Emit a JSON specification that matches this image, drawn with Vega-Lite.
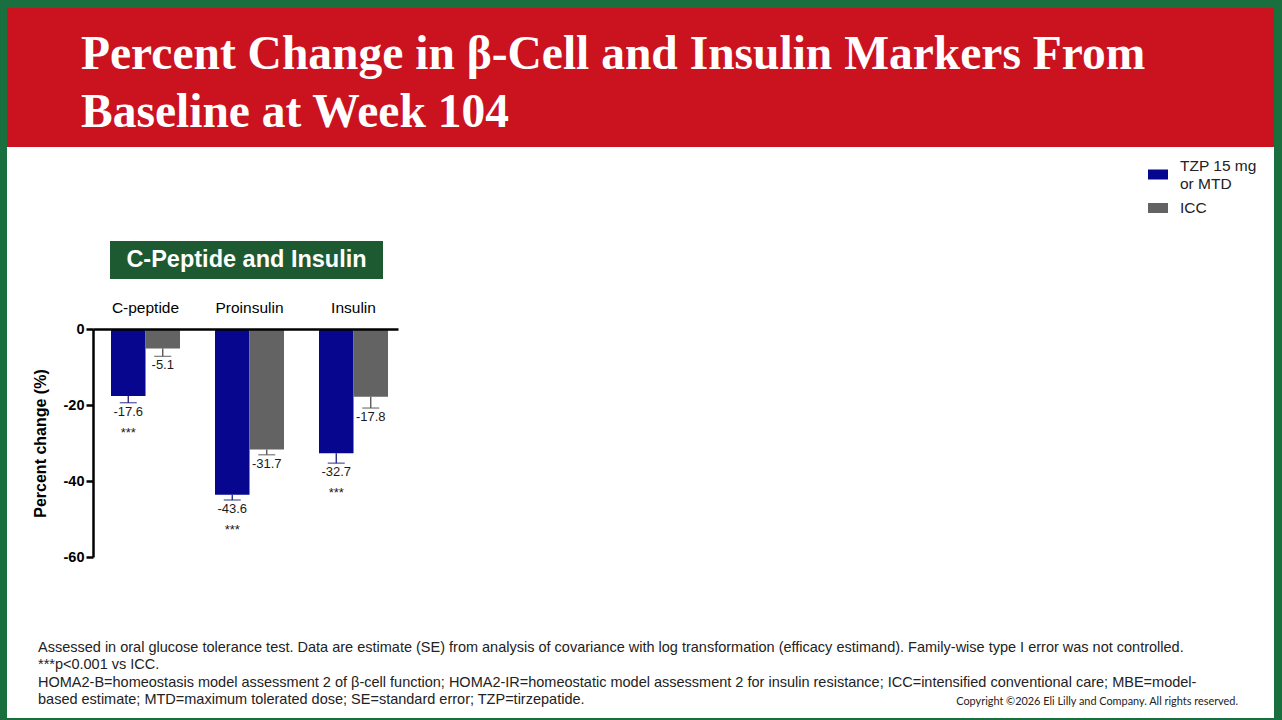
{
  "$schema": "https://vega.github.io/schema/vega-lite/v6.json",
  "description": "Percent change in beta-cell and insulin markers from baseline at week 104, slide recreation.",
  "background": "#1a6f3e",
  "padding": {"left": 7, "top": 8, "right": 8, "bottom": 2},
  "spacing": 0,
  "title": {
    "text": "Copyright ©2026 Eli Lilly and Company. All rights reserved.",
    "orient": "bottom",
    "anchor": "end",
    "frame": "bounds",
    "align": "right",
    "baseline": "alphabetic",
    "offset": -13.5,
    "dx": -36,
    "font": "Lato",
    "fontSize": 10.9,
    "fontWeight": "normal",
    "color": "#222222"
  },
  "vconcat": [
    {
      "width": 1267,
      "height": 139,
      "view": {"fill": "#cb131f", "stroke": null},
      "title": {
        "text": ["Percent Change in β-Cell and Insulin Markers From", "Baseline at Week 104"],
        "orient": "bottom",
        "anchor": "start",
        "frame": "group",
        "align": "left",
        "baseline": "alphabetic",
        "offset": -78,
        "dx": 74,
        "font": "Liberation Serif",
        "fontSize": 47.5,
        "fontWeight": "bold",
        "color": "#ffffff",
        "lineHeight": 58,
        "limit": 0
      },
      "data": {"values": [{}]},
      "mark": {"type": "text"},
      "encoding": {"text": {"value": ""}}
    },
    {
      "width": 1267,
      "height": 94,
      "view": {"fill": "#ffffff", "stroke": null},
      "data": {"values": [{}]},
      "mark": {"type": "text"},
      "encoding": {"text": {"value": ""}}
    },
    {
      "spacing": 0,
      "hconcat": [
        {
          "width": 103,
          "height": 38,
          "view": {"fill": "#ffffff", "stroke": null},
          "data": {"values": [{}]},
          "mark": {"type": "text"},
          "encoding": {"text": {"value": ""}}
        },
        {
          "width": 273,
          "height": 38,
          "view": {"fill": "#1e5a31", "stroke": null},
          "data": {"values": [{"panel": "C-Peptide and Insulin"}]},
          "mark": {
            "type": "text",
            "align": "center",
            "baseline": "middle",
            "font": "Liberation Sans",
            "fontSize": 23.5,
            "fontWeight": "bold",
            "color": "#ffffff"
          },
          "encoding": {"text": {"field": "panel", "type": "nominal"}}
        },
        {
          "width": 891,
          "height": 38,
          "view": {"fill": "#ffffff", "stroke": null},
          "data": {"values": [{}]},
          "mark": {"type": "text"},
          "encoding": {"text": {"value": ""}}
        }
      ]
    },
    {
      "width": 1267,
      "height": 439,
      "view": {"fill": "#ffffff", "stroke": null},
      "title": {
        "text": [
          "Assessed in oral glucose tolerance test. Data are estimate (SE) from analysis of covariance with log transformation (efficacy estimand). Family-wise type I error was not controlled.",
          "***p<0.001 vs ICC.",
          "HOMA2-B=homeostasis model assessment 2 of β-cell function; HOMA2-IR=homeostatic model assessment 2 for insulin resistance; ICC=intensified conventional care; MBE=model-",
          "based estimate; MTD=maximum tolerated dose; SE=standard error; TZP=tirzepatide."
        ],
        "orient": "bottom",
        "anchor": "start",
        "frame": "group",
        "align": "left",
        "baseline": "alphabetic",
        "offset": -66.5,
        "dx": 31,
        "font": "Liberation Sans",
        "fontSize": 14.5,
        "fontWeight": "normal",
        "color": "#222222",
        "lineHeight": 17.5,
        "limit": 0
      },
      "data": {
        "values": [
          {"marker": "C-peptide", "arm": "TZP 15 mg or MTD", "value": -17.6, "low": -19.4, "sig": "***"},
          {"marker": "C-peptide", "arm": "ICC", "value": -5.1, "low": -7.2, "sig": ""},
          {"marker": "Proinsulin", "arm": "TZP 15 mg or MTD", "value": -43.6, "low": -45.0, "sig": "***"},
          {"marker": "Proinsulin", "arm": "ICC", "value": -31.7, "low": -33.1, "sig": ""},
          {"marker": "Insulin", "arm": "TZP 15 mg or MTD", "value": -32.7, "low": -35.3, "sig": "***"},
          {"marker": "Insulin", "arm": "ICC", "value": -17.8, "low": -20.8, "sig": ""}
        ]
      },
      "encoding": {
        "x": {
          "field": "marker",
          "type": "nominal",
          "sort": ["C-peptide", "Proinsulin", "Insulin"],
          "scale": {"range": [86, 391], "paddingInner": 0.3365, "paddingOuter": 0.1346, "align": 0.643},
          "axis": {
            "orient": "top",
            "offset": -50,
            "title": null,
            "ticks": false,
            "labelAngle": 0,
            "labelFont": "Liberation Sans",
            "labelFontSize": 15.5,
            "labelColor": "#000000",
            "labelPadding": 14,
            "domainColor": "#000000",
            "domainWidth": 2.5,
            "zindex": 1
          }
        },
        "xOffset": {
          "field": "arm",
          "type": "nominal",
          "sort": ["TZP 15 mg or MTD", "ICC"],
          "scale": {"paddingInner": 0, "paddingOuter": 0}
        }
      },
      "layer": [
        {
          "mark": {"type": "bar"},
          "encoding": {
            "y": {
              "field": "value",
              "type": "quantitative",
              "title": "Percent change (%)",
              "scale": {"domain": [-60, 0], "range": [278, 50], "nice": false},
              "axis": {
                "offset": -86,
                "values": [0, -20, -40, -60],
                "labelExpr": "'' + datum.value",
                "grid": false,
                "domainColor": "#000000",
                "domainWidth": 2.5,
                "tickColor": "#000000",
                "tickWidth": 2.5,
                "tickSize": 7,
                "labelFont": "Liberation Sans",
                "labelFontSize": 14.5,
                "labelFontWeight": "bold",
                "labelColor": "#000000",
                "labelPadding": 2,
                "titleFont": "Liberation Sans",
                "titleFontSize": 16,
                "titleFontWeight": "bold",
                "titleColor": "#000000",
                "titlePadding": 15,
                "zindex": 1
              }
            },
            "color": {
              "field": "arm",
              "type": "nominal",
              "scale": {"domain": ["TZP 15 mg or MTD", "ICC"], "range": ["#06068f", "#636363"]},
              "legend": {
                "orient": "none",
                "legendX": 1141,
                "legendY": 148,
                "title": null,
                "symbolType": {"expr": "datum.value == 'ICC' ? 'M-1,-0.5H1V0.5H-1Z' : 'M-1,0.35H1V1.35H-1Z'"},
                "symbolSize": 400,
                "symbolStrokeWidth": 0,
                "labelFont": "Liberation Sans",
                "labelFontSize": 15.5,
                "labelColor": "#222222",
                "labelOffset": 12,
                "labelExpr": "datum.label == 'TZP 15 mg or MTD' ? ['TZP 15 mg', 'or MTD'] : datum.label",
                "rowPadding": 6
              }
            }
          }
        },
        {
          "mark": {"type": "rule", "strokeWidth": 1.3},
          "encoding": {
            "y": {"field": "value", "type": "quantitative", "title": "Percent change (%)"},
            "y2": {"field": "low"},
            "color": {"condition": {"test": "datum.arm == 'ICC'", "value": "#4d4d4d"}, "value": "#1a1a80"}
          }
        },
        {
          "mark": {"type": "tick", "thickness": 1.3, "size": 17},
          "encoding": {
            "y": {"field": "low", "type": "quantitative", "title": "Percent change (%)"},
            "color": {"condition": {"test": "datum.arm == 'ICC'", "value": "#4d4d4d"}, "value": "#1a1a80"}
          }
        },
        {
          "mark": {"type": "text", "baseline": "top", "dy": 3, "font": "Liberation Sans", "fontSize": 13, "color": "#1a1a1a"},
          "encoding": {
            "y": {"field": "low", "type": "quantitative", "title": "Percent change (%)"},
            "text": {"field": "value", "type": "nominal"}
          }
        },
        {
          "transform": [{"filter": "datum.sig != ''"}],
          "mark": {"type": "text", "baseline": "top", "dy": 24, "font": "Liberation Sans", "fontSize": 13, "color": "#1a1a1a"},
          "encoding": {
            "y": {"field": "low", "type": "quantitative", "title": "Percent change (%)"},
            "text": {"field": "sig", "type": "nominal"}
          }
        }
      ]
    }
  ],
  "config": {
    "view": {"stroke": null},
    "axis": {"grid": false},
    "font": "Liberation Sans"
  }
}
